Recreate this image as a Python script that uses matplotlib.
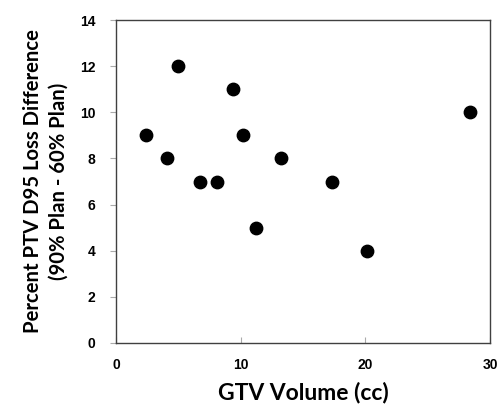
import matplotlib.pyplot as plt

# GTV volume (cc) and percent PTV D95 loss difference
gtv_volume = [2.4, 4.1, 5.0, 6.7, 8.1, 9.4, 10.2, 11.2, 13.2, 17.3, 20.1, 28.4]
d95_loss_diff = [9, 8, 12, 7, 7, 11, 9, 5, 8, 7, 4, 10]

x_ticks = [0, 10, 20, 30]
y_ticks = [0, 2, 4, 6, 8, 10, 12, 14]

fig = plt.figure(figsize=(4.99, 4.07), dpi=100)
ax = fig.add_axes([116 / 499, 1 - 343 / 407, 374 / 499, 323 / 407])

ax.scatter(gtv_volume, d95_loss_diff, s=80, color='black', zorder=3)

ax.set_xlim(0, 30)
ax.set_ylim(0, 14)
ax.set_xticks(x_ticks)
ax.set_yticks(y_ticks)

for side in ['left', 'right', 'top', 'bottom']:
    ax.spines[side].set_color('#404040')
    ax.spines[side].set_linewidth(1.0)

ax.tick_params(axis='x', direction='in', length=4, color='#aaaaaa', pad=11)
ax.tick_params(axis='y', direction='out', length=4, color='#aaaaaa', pad=11)

for lbl in ax.get_xticklabels() + ax.get_yticklabels():
    lbl.set_fontfamily('Liberation Sans')
    lbl.set_fontweight('bold')
    lbl.set_fontsize(10)

ax.set_xlabel('GTV Volume (cc)', fontfamily='Lato', fontweight='bold',
              fontsize=16.5, labelpad=7)
ax.set_ylabel('Percent PTV D95 Loss Difference\n(90% Plan - 60% Plan)',
              fontfamily='Lato', fontweight='bold', fontsize=14.6,
              labelpad=8, linespacing=1.35)

plt.savefig('out.png', dpi=100)
plt.close(fig)
